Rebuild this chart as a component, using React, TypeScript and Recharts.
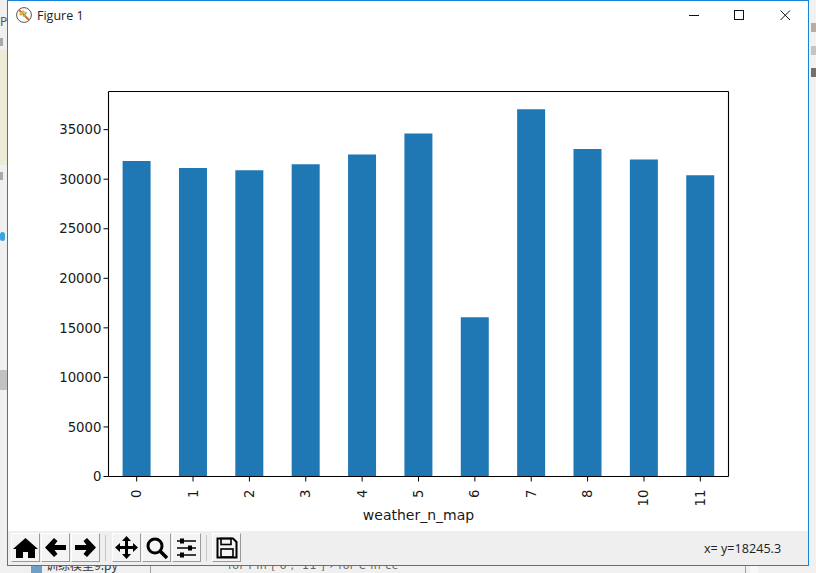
import React from 'react';
import { BarChart, Bar, XAxis, YAxis, Label } from 'recharts';

const categories = ['0', '1', '2', '3', '4', '5', '6', '7', '8', '10', '11'];
const counts = [31830, 31130, 30900, 31500, 32500, 34620, 16080, 37070, 33050, 32000, 30400];
const yTicks = [0, 5000, 10000, 15000, 20000, 25000, 30000, 35000];
const yMax = 38850;

const chartData = categories.map((name, i) => ({ name, count: counts[i] }));

const FONT = '"DejaVu Sans", sans-serif';
const INK = '#1a1a1a';

// rotated x tick, same as rot=90 in pandas
const RotatedTick = ({ x, y, payload }: any) => (
  <text
    x={0}
    y={0}
    transform={`translate(${x + 4.5},${y + 6}) rotate(-90)`}
    textAnchor="end"
    fontSize={13.3}
    fontFamily={FONT}
    fill={INK}
  >
    {payload.value}
  </text>
);

const box = (left: number, top: number, width: number, height: number, background: string): React.CSSProperties => ({
  position: 'absolute',
  left,
  top,
  width,
  height,
  background,
});

const ToolButton = ({ left, width = 29, children }: { left: number; width?: number; children: React.ReactNode }) => (
  <div
    style={{
      ...box(left, 533, width, 29, '#f4f4f4'),
      boxSizing: 'border-box',
      borderTop: '1px solid #ffffff',
      borderLeft: '1px solid #ffffff',
      borderRight: '1px solid #9a9a9a',
      borderBottom: '1px solid #9a9a9a',
    }}
  >
    <svg width={width - 2} height={27} viewBox="0 0 27 27" style={{ display: 'block' }}>
      {children}
    </svg>
  </div>
);

const Backdrop = () => (
  <>
    <div style={box(0, 0, 816, 573, '#f0f0f0')} />
    <div style={box(0, 50, 7, 115, '#ecebd6')} />
    <div style={box(0, 38, 3, 8, '#a9a9a9')} />
    <div style={box(0, 172, 3, 8, '#a9a9a9')} />
    <div style={box(0, 370, 7, 20, '#c2c2c2')} />
    <div style={{ ...box(0, 232, 5, 9, '#3aa6de'), borderRadius: 5 }} />
    <div style={box(150, 566, 1, 7, '#a0a0a0')} />
    <div style={box(808, 0, 8, 573, '#f1f1f1')} />
    <div style={box(811, 23, 5, 9, '#b9aca0')} />
    <div style={box(811, 46, 5, 9, '#c4c4c4')} />
    <div style={box(811, 68, 5, 9, '#77706a')} />
    <div style={box(745, 566, 1, 7, '#a0a0a0')} />
    <div style={box(750, 566, 8, 7, '#f8f8f8')} />
    <div style={box(31, 566, 11, 7, '#6f9fc4')} />
    <div style={{ position: 'absolute', left: 46, top: 557, fontSize: 12, lineHeight: '15px', color: '#333', fontFamily: '"Noto Sans CJK SC", sans-serif', whiteSpace: 'nowrap' }}>
      训练模型9.py
    </div>
    <div style={{ position: 'absolute', left: 228, top: 560, fontSize: 11, letterSpacing: 0.5, lineHeight: '12px', color: '#666', fontFamily: FONT, whiteSpace: 'nowrap' }}>
      for i in ['6', '11'] › for e in cc
    </div>
    <div style={{ position: 'absolute', left: 0, top: 13, fontSize: 12, color: '#555', fontFamily: '"Noto Sans", sans-serif' }}>Pr</div>
  </>
);

const WindowFrame = () => (
  <div
    style={{
      ...box(7, 0, 802, 566, '#ffffff'),
      boxSizing: 'border-box',
      border: '1px solid #1883d7',
    }}
  />
);

const TitleBar = () => (
  <>
    <svg width={18} height={18} style={{ position: 'absolute', left: 15, top: 6 }}>
      <circle cx={9} cy={9} r={7.4} fill="#fff" stroke="#555" strokeWidth={1} />
      <path d="M4 4 L14 14" stroke="#d9662a" strokeWidth={2} />
      <path d="M5 9 L9 5" stroke="#e9b13c" strokeWidth={3} />
      <path d="M9 11 L11 6" stroke="#8db87a" strokeWidth={2} />
    </svg>
    <div style={{ position: 'absolute', left: 37, top: 7, fontSize: 12.5, color: '#222', fontFamily: '"Open Sans", sans-serif' }}>
      Figure 1
    </div>
    <svg width={120} height={20} style={{ position: 'absolute', left: 680, top: 5 }}>
      <path d="M9 10.5 H19" stroke="#111" strokeWidth={1} />
      <rect x={54.5} y={5.5} width={9} height={9} fill="none" stroke="#111" strokeWidth={1} />
      <path d="M100.5 5.5 L110 15 M110 5.5 L100.5 15" stroke="#111" strokeWidth={1} fill="none" />
    </svg>
  </>
);

const Toolbar = () => (
  <>
    <div style={box(8, 531, 800, 34, '#efefef')} />
    <ToolButton left={11}>
      <path d="M13.5 4 L26 15 L23 15 L23 24 L16 24 L16 18 L11 18 L11 24 L4 24 L4 15 L1 15 Z" fill="#000" />
    </ToolButton>
    <ToolButton left={41}>
      <path d="M12 4 L3 13.5 L12 23 L15.5 20 L12.5 16 L24 16 L24 11 L12.5 11 L15.5 7 Z" fill="#000" />
    </ToolButton>
    <ToolButton left={71}>
      <path d="M15 4 L24 13.5 L15 23 L11.5 20 L14.5 16 L3 16 L3 11 L14.5 11 L11.5 7 Z" fill="#000" />
    </ToolButton>
    <div style={box(105, 535, 1, 26, '#c8c8c8')} />
    <ToolButton left={112}>
      <path d="M13.5 2 L18 7 L15 7 L15 12 L20 12 L20 9 L25 13.5 L20 18 L20 15 L15 15 L15 20 L18 20 L13.5 25 L9 20 L12 20 L12 15 L7 15 L7 18 L2 13.5 L7 9 L7 12 L12 12 L12 7 L9 7 Z" fill="#000" />
    </ToolButton>
    <ToolButton left={142}>
      <circle cx={12} cy={12} r={7} fill="none" stroke="#000" strokeWidth={3} />
      <path d="M17 17 L24 24" stroke="#000" strokeWidth={3.5} />
    </ToolButton>
    <ToolButton left={172}>
      <path d="M4 7 H23 M4 14 H23 M4 21 H23" stroke="#000" strokeWidth={1.6} />
      <rect x={7} y={4.5} width={4} height={5} fill="#000" />
      <rect x={15} y={11.5} width={4} height={5} fill="#000" />
      <rect x={7} y={18.5} width={4} height={5} fill="#000" />
    </ToolButton>
    <div style={box(206, 535, 1, 26, '#c8c8c8')} />
    <ToolButton left={212}>
      <path d="M4.5 4.5 H20 L23.5 8 V23.5 H4.5 Z" fill="none" stroke="#000" strokeWidth={2} />
      <rect x={8} y={4.5} width={10} height={6} fill="none" stroke="#000" strokeWidth={1.6} />
      <rect x={8} y={15} width={12} height={8} fill="none" stroke="#000" strokeWidth={1.6} />
    </ToolButton>
    <div style={{ position: 'absolute', left: 704, top: 540, fontSize: 12.6, color: '#222', fontFamily: '"Open Sans", sans-serif', whiteSpace: 'nowrap' }}>
      x= y=18245.3
    </div>
  </>
);

export default function App() {
  return (
    <div style={{ position: 'absolute', left: 0, top: 0, width: 816, height: 573, overflow: 'hidden' }}>
      <Backdrop />
      <WindowFrame />
      <TitleBar />
      <div style={{ position: 'absolute', left: 0, top: 0 }}>
        <BarChart
          width={816}
          height={573}
          data={chartData}
          barCategoryGap="25%"
          margin={{ top: 90.5, right: 86.5, bottom: 36.5, left: 48.5 }}
        >
          <XAxis
            dataKey="name"
            interval={0}
            stroke="#000"
            tickSize={5}
            tickLine={{ stroke: '#000' }}
            axisLine={{ stroke: '#000', strokeWidth: 1.1 }}
            tick={<RotatedTick />}
            height={60}
          >
            <Label value="weather_n_map" position="insideTop" offset={34} fontSize={14} fontFamily={FONT} fill={INK} />
          </XAxis>
          <XAxis xAxisId="top" orientation="top" dataKey="name" tick={false} tickLine={false} height={1} axisLine={{ stroke: '#000', strokeWidth: 1.1 }} />
          <YAxis
            domain={[0, yMax]}
            ticks={yTicks}
            width={60}
            interval={0}
            tickSize={5}
            tickLine={{ stroke: '#000' }}
            axisLine={{ stroke: '#000', strokeWidth: 1.1 }}
            tick={{ fontSize: 13.3, fontFamily: FONT, fill: INK }}
            tickFormatter={(value: number) => `${value}`}
          />
          <YAxis yAxisId="right" orientation="right" domain={[0, yMax]} tick={false} tickLine={false} width={1} axisLine={{ stroke: '#000', strokeWidth: 1.1 }} />
          <Bar dataKey="count" fill="#1f77b4" isAnimationActive={false} />
        </BarChart>
      </div>
      <Toolbar />
    </div>
  );
}
